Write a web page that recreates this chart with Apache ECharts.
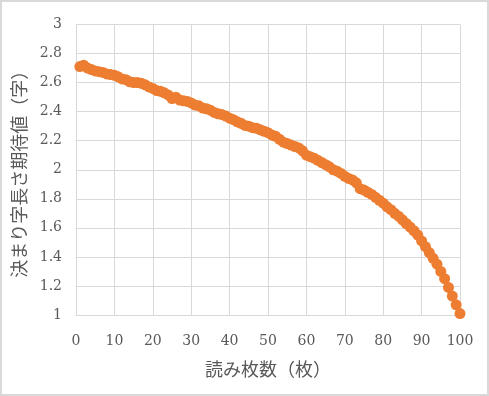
<!DOCTYPE html>
<html><head><meta charset="utf-8">
<script src="https://cdn.jsdelivr.net/npm/echarts@6/dist/echarts.min.js"></script>
<style>html,body{margin:0;padding:0;background:#fff}#c{width:489px;height:396px;box-sizing:border-box;border:2px solid #d9d9d9}</style>
</head><body><div id="c"></div>
<script>
const xTitle = '読み枚数（枚）';
const yTitle = '決まり字長さ期待値（字）';
const cardsRead = [];
for (let i = 1; i <= 100; i++) cardsRead.push(i);
const expectedLen = [
2.71,2.72,2.70,2.69,2.68,2.675,2.67,2.66,2.655,2.65,
2.64,2.625,2.62,2.605,2.60,2.60,2.595,2.585,2.57,2.56,
2.545,2.54,2.53,2.515,2.49,2.50,2.48,2.475,2.47,2.46,
2.445,2.44,2.425,2.42,2.41,2.395,2.385,2.38,2.37,2.355,
2.345,2.33,2.32,2.305,2.30,2.29,2.285,2.275,2.265,2.255,
2.24,2.23,2.21,2.19,2.18,2.17,2.16,2.15,2.13,2.10,
2.09,2.08,2.065,2.05,2.035,2.02,2.00,1.99,1.975,1.955,
1.94,1.93,1.91,1.87,1.86,1.845,1.83,1.81,1.79,1.77,
1.745,1.725,1.70,1.68,1.655,1.63,1.605,1.58,1.55,1.51,
1.47,1.43,1.39,1.35,1.30,1.25,1.19,1.13,1.07,1.01
];
const data = cardsRead.map((x, i) => [x, expectedLen[i]]);
const chart = echarts.init(document.getElementById('c'));
const numFont = {fontFamily: 'DejaVu Serif', fontSize: 14, color: '#595959'};
const cjkFont = {fontFamily: 'Noto Sans CJK JP', fontSize: 18, color: '#595959'};
chart.setOption({
  animation: false,
  grid: {left: 74, right: 27, top: 22.5, bottom: 79},
  xAxis: {
    type: 'value', min: 0, max: 100, interval: 10,
    name: xTitle, nameLocation: 'middle', nameGap: 45, nameTextStyle: cjkFont,
    axisLine: {show: true, lineStyle: {color: '#d9d9d9'}},
    axisTick: {show: false},
    axisLabel: Object.assign({margin: 19}, numFont),
    splitLine: {lineStyle: {color: '#d9d9d9'}}
  },
  yAxis: {
    type: 'value', min: 1, max: 3, interval: 0.2,
    name: yTitle, nameLocation: 'middle', nameGap: 48, nameTextStyle: cjkFont,
    axisLine: {show: true, lineStyle: {color: '#d9d9d9'}},
    axisTick: {show: false},
    axisLabel: Object.assign({margin: 14, formatter: v => String(+v.toFixed(1))}, numFont),
    splitLine: {lineStyle: {color: '#d9d9d9'}}
  },
  series: [{
    type: 'scatter', data: data, symbol: 'circle', symbolSize: 11,
    itemStyle: {color: '#ED7D31', opacity: 1}
  }]
});
</script></body></html>
